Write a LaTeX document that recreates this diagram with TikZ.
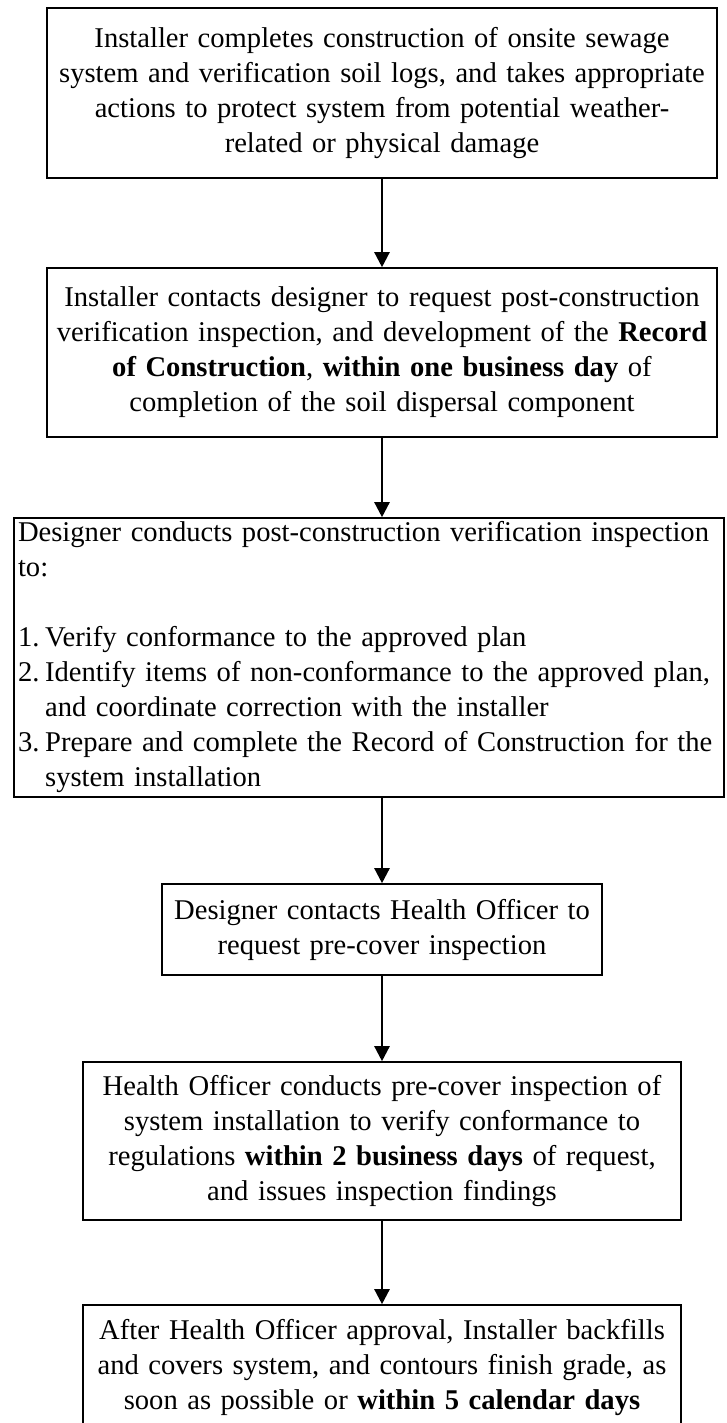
\documentclass[tikz,border=0pt]{standalone}
\usepackage{fontspec}
\setmainfont{Liberation Serif}
\usetikzlibrary{arrows.meta}

\tikzset{
  stepbox/.style={draw, rectangle, line width=1.6pt, inner xsep=7pt, inner ysep=0pt,
    align=center, font=\fontsize{28.6}{35}\selectfont},
  flowarrow/.style={line width=2.4pt, -{Triangle[width=15pt,length=15pt]}},
}

\begin{document}
\hyphenpenalty=10000
\begin{tikzpicture}[x=1pt, y=-1pt]
  \def\xMID{382};
  \path[use as bounding box] (0,0) rectangle (727,1423);
  \clip (0,0) rectangle (727,1423);

  \node[stepbox, inner xsep=1pt, text width=668pt, minimum height=170pt] (install) at (\xMID,93)
    {Installer completes construction of onsite sewage\\
     system and verification soil logs, and takes appropriate\\
     actions to protect system from potential weather-\\
     related or physical damage};

  \node[stepbox, inner xsep=1pt, text width=668pt, minimum height=169pt] (contact) at (\xMID,352.5)
    {Installer contacts designer to request post-construction\\
     verification inspection, and development of the \textbf{Record}\\
     \textbf{of Construction}, \textbf{within one business day} of\\
     completion of the soil dispersal component};

  \node[stepbox, inner xsep=4pt, text width=702pt, align=left, minimum height=279pt] (verify) at (369,657.5)
    {Designer conducts post-construction verification inspection\\
     to:\\[35pt]
     \makebox[0.95em][l]{1.}Verify conformance to the approved plan\\
     \makebox[0.95em][l]{2.}Identify items of non-conformance to the approved plan,\\
     \hspace*{0.95em}and coordinate correction with the installer\\
     \makebox[0.95em][l]{3.}Prepare and complete the Record of Construction for the\\
     \hspace*{0.95em}system installation};

  \node[stepbox, text width=426pt, minimum height=91pt] (request) at (\xMID,929.5)
    {Designer contacts Health Officer to\\
     request pre-cover inspection};

  \node[stepbox, text width=584pt, minimum height=158pt] (precover) at (\xMID,1141)
    {Health Officer conducts pre-cover inspection of\\
     system installation to verify conformance to\\
     regulations \textbf{within 2 business days} of request,\\
     and issues inspection findings};

  \node[stepbox, text width=584pt, minimum height=125pt] (backfill) at (\xMID,1367.5)
    {After Health Officer approval, Installer backfills\\
     and covers system, and contours finish grade, as\\
     soon as possible or \textbf{within 5 calendar days}};

  \begin{scope}[flowarrow]
    \draw (install) -- (contact);
    \draw (contact) -- (contact.south |- verify.north);
    \draw (verify.south -| request.north) -- (request);
    \draw (request) -- (precover);
    \draw (precover) -- (backfill);
  \end{scope}
\end{tikzpicture}
\end{document}
